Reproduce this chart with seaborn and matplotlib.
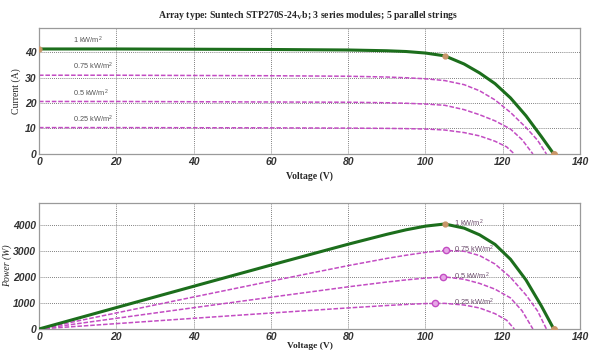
import matplotlib
matplotlib.use("Agg")
import matplotlib.pyplot as plt
import numpy as np
import pandas as pd
import seaborn as sns

# Irradiance levels and their labels
irradiance = ["1 kW/m$^2$", "0.75 kW/m$^2$", "0.5 kW/m$^2$", "0.25 kW/m$^2$"]

# I-V samples for each irradiance level (voltage in V, current in A)
v_1000 = [0, 20, 40, 60, 80, 90, 95, 100, 105, 110, 114, 118, 122, 126, 130, 133.2]
i_1000 = [41.2, 41.2, 41.1, 41.0, 40.8, 40.5, 40.2, 39.6, 38.5, 35.3, 31.8, 27.6, 22.0, 15.0, 6.8, 0]

v_750 = [0, 20, 40, 60, 80, 90, 95, 100, 105, 110, 114, 118, 122, 126, 129, 131.3]
i_750 = [30.9, 30.9, 30.8, 30.7, 30.5, 30.2, 29.9, 29.5, 28.8, 27.2, 24.8, 21.2, 16.3, 10.4, 5.4, 0]

v_500 = [0, 20, 40, 60, 80, 90, 95, 100, 105, 110, 114, 118, 122, 125, 127.8]
i_500 = [20.6, 20.6, 20.5, 20.4, 20.3, 20.1, 19.9, 19.6, 19.1, 17.4, 15.4, 13.0, 9.8, 5.6, 0]

v_250 = [0, 20, 40, 60, 80, 90, 95, 100, 105, 110, 114, 118, 121, 123]
i_250 = [10.35, 10.35, 10.3, 10.25, 10.15, 10.05, 9.95, 9.8, 9.4, 8.4, 7.1, 5.0, 2.8, 0]

# Maximum power points
mpp_v = [105.0, 105.2, 104.5, 102.5]
mpp_i = [38.5, 28.8, 19.1, 9.65]

curves = [(v_1000, i_1000), (v_750, i_750), (v_500, i_500), (v_250, i_250)]

rows = []
for name, (vs, cs) in zip(irradiance, curves):
    for v, c in zip(vs, cs):
        rows.append({"level": name, "V": v, "I": c, "P": v * c})
df = pd.DataFrame(rows)

sns.set_style("white")
plt.rcParams["font.family"] = ["Liberation Sans", "DejaVu Sans"]
plt.rcParams["mathtext.fontset"] = "custom"
plt.rcParams["mathtext.rm"] = "Liberation Sans"
plt.rcParams["mathtext.it"] = "Liberation Sans:italic"

fig = plt.figure(figsize=(5.98, 3.54), dpi=100)
ax1 = fig.add_axes([0.0652, 0.565, 0.9048, 0.356])
ax2 = fig.add_axes([0.0652, 0.0706, 0.9048, 0.356])

green = "#1c6e1c"
magenta = "#c34cc3"
mark_col = "#c8966a"
serif = "Liberation Serif"

styles = {irradiance[0]: dict(color=green, lw=2.2, ls="-"),
          irradiance[1]: dict(color=magenta, lw=1.1, ls=(0, (3, 1.2))),
          irradiance[2]: dict(color=magenta, lw=1.1, ls=(0, (3, 1.2))),
          irradiance[3]: dict(color=magenta, lw=1.1, ls=(0, (3, 1.2)))}

# Draw magenta curves first so the green one sits on top
for name in irradiance[::-1]:
    sub = df[df["level"] == name]
    st = styles[name]
    for ax, col in ((ax1, "I"), (ax2, "P")):
        sns.lineplot(data=sub, x="V", y=col, ax=ax, sort=False, estimator=None,
                     color=st["color"], linewidth=st["lw"], linestyle=st["ls"],
                     legend=False, zorder=3 if name == irradiance[0] else 2)

# Markers: maximum power point and open-circuit point of the reference curve
ax1.plot([mpp_v[0]], [mpp_i[0]], "o", ms=3.5, mfc=mark_col, mec=mark_col, zorder=4)
ax1.plot([v_1000[-1]], [0], "o", ms=4, mfc=mark_col, mec=mark_col, zorder=4)
ax1.plot([0], [i_1000[0]], "o", ms=3.5, mfc=mark_col, mec=mark_col, zorder=4)
ax2.plot([v_1000[-1]], [0], "o", ms=4, mfc=mark_col, mec=mark_col, zorder=4)
for k, (mv, mi) in enumerate(zip(mpp_v, mpp_i)):
    if k == 0:
        ax2.plot([mv], [mv * mi], "o", ms=3.5, mfc=mark_col, mec=mark_col, zorder=4)
    else:
        ax2.plot([mv], [mv * mi], "o", ms=4.5, mfc="#e6a8e6", mec=magenta, mew=1, zorder=4)

# Labels on the curves
for name, (vs, cs) in zip(irradiance, curves):
    ax1.text(8.8, cs[0] + 3.3, name, fontsize=5.3, color="#555555",
             ha="left", va="center")
for name, mv, mi in zip(irradiance, mpp_v, mpp_i):
    ax2.text(107.3, mv * mi + 40, name, fontsize=5.3, color="#6a4a6a",
             ha="left", va="center", zorder=5)

for ax in (ax1, ax2):
    ax.set_xlim(0, 140)
    ax.set_xticks(np.arange(0, 141, 20))
    ax.grid(True, color="#555555", linestyle=(0, (1, 1.5)), linewidth=0.6)
    ax.set_axisbelow(True)
    for s in ax.spines.values():
        s.set_color("#9a9a9a")
        s.set_linewidth(0.9)
    ax.tick_params(direction="in", length=2.5, color="#777777", pad=2)

ax1.set_xlabel("Voltage (V)", family=serif, fontweight="bold", fontsize=7, labelpad=3)
ax2.set_xlabel("Voltage (V)", family=serif, fontweight="bold", fontsize=6.8, labelpad=0.5)

ax1.set_ylim(0, 1.2 * i_1000[0])
ax1.set_yticks([0, 10, 20, 30, 40])
ax2.set_ylim(0, 1.2 * mpp_v[0] * mpp_i[0])
ax2.set_yticks([0, 1000, 2000, 3000, 4000])
for ax in (ax1, ax2):
    for lbl in ax.get_xticklabels() + ax.get_yticklabels():
        lbl.set_fontweight("bold")
        lbl.set_fontstyle("italic")
        lbl.set_fontsize(7.5)
        lbl.set_color("#333333")

ax1.set_ylabel("Current (A)", family=serif, fontsize=7, labelpad=3)
ax2.set_ylabel("Power (W)", family=serif, fontsize=7, fontstyle="italic", labelpad=1)

fig.text(0.515, 0.955, r"Array type: Suntech STP270S-24$_\mathregular{V}$b; 3 series modules; 5 parallel strings",
         ha="center", va="center", family=serif, fontweight="bold", fontsize=7)

fig.savefig("out.png", dpi=100)
